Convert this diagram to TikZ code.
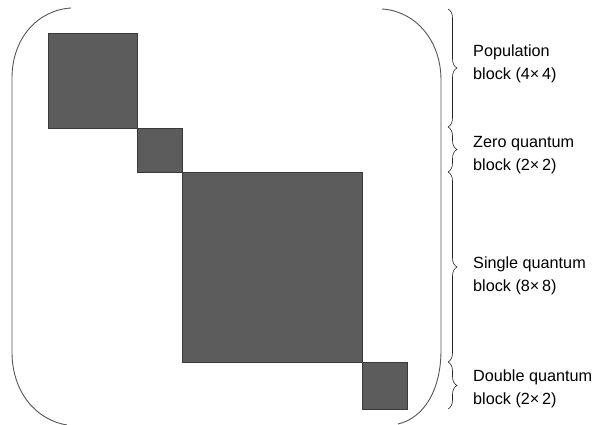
\documentclass[tikz,border=0pt]{standalone}
\usepackage{fontspec}
\setmainfont{Liberation Sans}
\usetikzlibrary{decorations.pathreplacing}
\definecolor{blockgray}{HTML}{5C5C5C}
\definecolor{blockedge}{HTML}{3A3A3A}
\definecolor{parengray}{HTML}{555555}
\tikzset{
  blockfill/.style={fill=blockgray, draw=blockedge, line width=0.6pt},
  paren/.style={draw=parengray, line width=0.9pt},
  bracemark/.style={draw=black!85, line width=0.6pt,
    decorate, decoration={brace, amplitude=9pt, aspect=0.5}},
  lbl/.style={anchor=base west, inner sep=0pt, font=\fontsize{16.2}{23}\selectfont, text=black}
}
\begin{document}
\begin{tikzpicture}[x=1pt, y=-1pt]
  \useasboundingbox (0,0) rectangle (597,425);

  % diagonal blocks of the density matrix
  \draw[blockfill] (48,33)   rectangle (137,128);
  \draw[blockfill] (137,128) rectangle (182,172);
  \draw[blockfill] (182,172) rectangle (362,362);
  \draw[blockfill] (362,362) rectangle (407,409);

  % matrix parentheses
  \draw[paren] (71,8) .. controls (38,10) and (12,38) .. (12,78)
    -- (12,352) .. controls (12,392) and (36,420) .. (67,425);
  \draw[paren] (382,9) .. controls (415,11) and (441,40) .. (441,80)
    -- (441,350) .. controls (441,390) and (424,418) .. (398,424);

  % braces marking each block
  \coordinate (b0) at (448,9);
  \coordinate (b1) at (448,127);
  \coordinate (b2) at (448,172);
  \coordinate (b3) at (448,362);
  \coordinate (b4) at (448,409);
  \draw[bracemark] (b0) -- (b1);
  \draw[bracemark] (b1) -- (b2);
  \draw[bracemark] (b2) -- (b3);
  \draw[bracemark] (b3) -- (b4);

  % block labels
  \node[lbl] (pop1) at (473,57)  {Population};
  \node[lbl] (pop2) at (473,80)  {block (4×\,4)};
  \node[lbl] (zq1)  at (473,148) {Zero quantum};
  \node[lbl] (zq2)  at (473,171) {block (2×\,2)};
  \node[lbl] (sq1)  at (473,268) {Single quantum};
  \node[lbl] (sq2)  at (473,291) {block (8×\,8)};
  \node[lbl] (dq1)  at (473,381) {Double quantum};
  \node[lbl] (dq2)  at (473,404) {block (2×\,2)};
\end{tikzpicture}
\end{document}
